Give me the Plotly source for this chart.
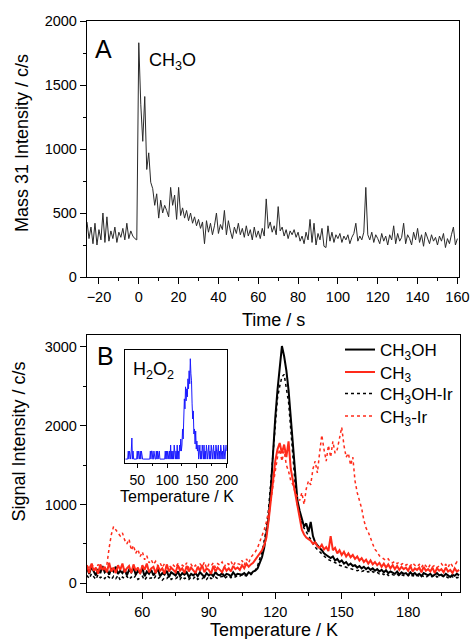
import plotly.graph_objects as go

# ---------------- data ----------------
time_s = list(range(-26, 161))
mass31 = [
    430, 300, 390, 260, 420, 250, 370, 290, 500, 270,
    470, 280, 360, 300, 390, 270, 350, 310, 380, 290,
    420, 300, 360, 320, 300, 290,
    1830, 1350, 1060, 1410, 840, 970, 740, 690, 560, 650,
    460, 600, 500, 560, 520, 470, 700, 560, 640, 450,
    700, 480, 540, 460, 520, 440, 500, 420, 470, 400,
    450, 380, 430, 260, 440, 350, 420, 330, 400, 500,
    340, 410, 370, 520, 330, 440, 360, 300, 390, 340,
    420, 330, 380, 310, 400, 320, 370, 290, 390, 310,
    360, 300, 380, 320, 610, 380, 430, 350, 400, 330,
    550, 360, 390, 320, 370, 300, 360, 330, 370, 310,
    350, 280, 320, 260, 350, 290, 450, 270, 420, 250,
    340, 290, 380, 240, 230, 400, 280, 350, 270, 330,
    300, 340, 270, 320, 290, 330, 260, 310, 340, 420,
    280, 320, 290, 350, 700, 330, 290, 350, 270, 330,
    300, 260, 340, 280, 320, 250, 330, 290, 400, 260,
    340, 280, 310, 420, 260, 330, 300, 250, 350, 290,
    380, 270, 330, 240, 350, 300, 260, 330, 280, 310,
    250, 320, 280, 340, 230, 300, 260, 330, 390, 250,
    300,
]

temp_K = list(range(35, 204))
ch3oh = [
    190, 120, 210, 150, 100, 180, 130, 220, 140, 170,
    110, 190, 150, 210, 120, 160, 130, 180, 100, 170,
    140, 200, 110, 160, 130, 190, 90, 150, 120, 170,
    100, 140, 180, 90, 130, 110, 160, 80, 140, 120,
    100, 150, 90, 130, 110, 140, 80, 120, 100, 130,
    90, 140, 110, 80, 130, 100, 120, 90, 140, 110,
    100, 130, 90, 120, 110, 90, 140, 100, 120, 110,
    110, 130, 100, 140, 120, 150, 160, 190, 260, 330,
    450, 620, 830, 1200, 1700, 2100, 2450, 2750, 3010, 2880,
    2700, 2450, 2100, 1650, 1300, 1050, 920, 800, 720, 760,
    650, 780, 600, 520, 480, 450, 420, 380, 360, 340,
    320, 340, 290, 310, 270, 290, 250, 270, 230, 250,
    220, 230, 200, 220, 190, 210, 180, 200, 170, 190,
    160, 180, 150, 170, 140, 165, 130, 150, 140, 120,
    150, 110, 140, 120, 130, 100, 140, 110, 130, 100,
    120, 90, 130, 110, 100, 120, 90, 110, 130, 100,
    110, 90, 120, 100, 80, 110, 95, 120, 100,
]
ch3 = [
    220, 130, 250, 160, 200, 120, 240, 170, 210, 140,
    260, 150, 200, 130, 230, 170, 250, 140, 190, 220,
    130, 240, 160, 200, 120, 230, 170, 250, 140, 190,
    210, 130, 220, 160, 190, 120, 240, 150, 200, 170,
    140, 230, 160, 190, 130, 220, 150, 200, 170, 130,
    210, 160, 230, 140, 190, 170, 120, 220, 150, 200,
    170, 140, 210, 160, 190, 150, 220, 180, 200, 170,
    230, 190, 250, 210, 240, 260, 300, 340, 380, 420,
    480, 580, 800, 1050, 1350, 1550, 1700, 1780, 1650, 1760,
    1600, 1800, 1450, 1300, 1150, 950, 800, 680, 620, 580,
    560, 540, 500, 520, 470, 450, 490, 430, 460, 410,
    600, 420, 450, 380, 420, 360, 400, 340, 380, 330,
    360, 310, 340, 290, 320, 270, 300, 250, 290, 240,
    270, 230, 260, 210, 250, 200, 240, 190, 230, 180,
    220, 170, 210, 180, 200, 160, 220, 150, 190, 170,
    200, 140, 210, 160, 180, 150, 200, 130, 190, 160,
    180, 140, 200, 150, 170, 130, 190, 150, 170,
]
ch3oh_ir = [
    100, 60, 120, 80, 50, 110, 70, 90, 60, 100,
    70, 50, 90, 60, 100, 40, 80, 60, 90, 50,
    80, 60, 100, 50, 70, 90, 40, 80, 60, 70,
    50, 90, 60, 80, 40, 70, 60, 90, 50, 70,
    60, 80, 50, 90, 60, 70, 50, 80, 60, 90,
    50, 70, 60, 80, 50, 90, 60, 70, 80, 60,
    70, 90, 60, 80, 100, 70, 90, 80, 100, 90,
    110, 90, 100, 120, 110, 140, 170, 220, 300, 400,
    540, 700, 950, 1300, 1750, 2100, 2350, 2500, 2620, 2650,
    2500, 2300, 1950, 1550, 1250, 1000, 880, 760, 700, 650,
    600, 560, 500, 460, 430, 400, 370, 340, 320, 300,
    290, 270, 260, 250, 230, 220, 210, 200, 190, 180,
    180, 170, 160, 170, 150, 160, 140, 150, 130, 150,
    130, 140, 120, 130, 110, 130, 100, 120, 110, 100,
    120, 90, 110, 100, 90, 110, 80, 100, 90, 110,
    80, 100, 90, 70, 100, 80, 90, 110, 80, 90,
    100, 80, 90, 70, 100, 80, 90, 70, 80,
]
ch3_ir = [
    230, 180, 260, 200, 170, 240, 190, 220, 180, 240,
    450, 620, 720, 680, 650, 600, 640, 550, 500, 560,
    420, 480, 380, 430, 340, 400, 300, 350, 260, 300,
    240, 280, 220, 260, 200, 250, 210, 240, 190, 230,
    200, 250, 180, 230, 210, 260, 190, 240, 200, 230,
    180, 250, 210, 270, 190, 240, 220, 260, 200, 250,
    230, 270, 210, 260, 240, 280, 220, 270, 250, 240,
    290, 230, 310, 260, 330, 360, 400, 450, 520, 600,
    680, 780, 900, 1050, 1250, 1450, 1600, 1700, 1550, 1680,
    1500, 1420, 1300, 1250, 1150, 1100, 1050, 1150, 1000, 1200,
    1300, 1250, 1450, 1550, 1400, 1650, 1880, 1700, 1550, 1750,
    1600, 1800, 1650, 1700, 1850, 1980, 1750, 1600, 1650, 1500,
    1600, 1300, 1150, 1050, 950, 800, 700, 650, 560, 500,
    430, 400, 350, 330, 300, 290, 310, 270, 260, 280,
    250, 270, 240, 260, 230, 250, 220, 260, 230, 210,
    240, 200, 250, 220, 190, 240, 210, 230, 200, 220,
    250, 210, 240, 200, 260, 220, 230, 270, 240,
]

inset_T = list(range(30, 201))
h2o2 = [
    0, 0, 0, 0, 0, 8, 0, 8, 0, 0,
    8, 21, 0, 8, 0, 0, 0, 0, 0, 0,
    8, 0, 8, 0, 0, 8, 0, 8, 0, 0,
    0, 0, 0, 0, 0, 0, 0, 0, 0, 0,
    0, 0, 8, 0, 8, 8, 0, 0, 8, 0,
    0, 0, 8, 0, 8, 0, 8, 8, 0, 0,
    0, 0, 0, 0, 0, 0, 0, 8, 0, 8,
    0, 8, 0, 0, 8, 0, 14, 0, 8, 0,
    8, 0, 14, 8, 0, 8, 0, 14, 0, 8,
    0, 14, 8, 20, 8, 14, 30, 20, 45, 60,
    50, 72, 58, 70, 62, 80, 70, 88, 75, 100,
    85, 78, 55, 40, 48, 25, 30, 15, 28, 10,
    18, 8, 14, 0, 8, 14, 0, 8, 0, 14,
    8, 0, 14, 0, 8, 0, 14, 8, 0, 8,
    14, 0, 8, 0, 14, 8, 0, 8, 14, 0,
    8, 0, 14, 8, 0, 8, 14, 0, 8, 0,
    14, 8, 0, 8, 0, 14, 8, 0, 8, 14,
    8,
]

# ---------------- figure ----------------
W, H = 470, 639
FONT = "Liberation Sans, Arial, sans-serif"


def px(x):
    return x / W


def py(y):
    return 1 - y / H


fig = go.Figure()

fig.add_trace(go.Scatter(x=time_s, y=mass31, mode="lines",
                         line=dict(color="#2a2a2a", width=1),
                         xaxis="x", yaxis="y", showlegend=False))

fig.add_trace(go.Scatter(x=temp_K, y=ch3oh_ir, mode="lines", name="CH<sub>3</sub>OH-Ir",
                         line=dict(color="black", width=1.5, dash="dot"),
                         xaxis="x2", yaxis="y2", legend="legend3"))
fig.add_trace(go.Scatter(x=temp_K, y=ch3oh, mode="lines", name="CH<sub>3</sub>OH",
                         line=dict(color="black", width=2),
                         xaxis="x2", yaxis="y2", legend="legend"))
fig.add_trace(go.Scatter(x=temp_K, y=ch3_ir, mode="lines", name="CH<sub>3</sub>-Ir",
                         line=dict(color="#ff2a1a", width=1.5, dash="dot"),
                         xaxis="x2", yaxis="y2", legend="legend4"))
fig.add_trace(go.Scatter(x=temp_K, y=ch3, mode="lines", name="CH<sub>3</sub>",
                         line=dict(color="#ff2a1a", width=2),
                         xaxis="x2", yaxis="y2", legend="legend2"))

fig.add_trace(go.Scatter(x=inset_T, y=h2o2, mode="lines",
                         line=dict(color="#1a1aff", width=1),
                         xaxis="x3", yaxis="y3", showlegend=False))

MINOR = dict(ticks="outside", tickcolor="black", tickwidth=1.3, showgrid=False)
axis_common = dict(showgrid=False, zeroline=False, showline=True, linecolor="black",
                   linewidth=1.3, mirror=True, ticks="outside", tickcolor="black",
                   tickwidth=1.3, ticklen=6, automargin=False, ticklabeloverflow="allow",
                   tickfont=dict(family=FONT, size=14.5, color="black"))


def leg(ycenter):
    return dict(x=px(340), y=py(ycenter), xanchor="left", yanchor="middle",
                font=dict(family=FONT, size=17, color="black"),
                bgcolor="rgba(0,0,0,0)", itemwidth=30)


fig.update_layout(
    width=W, height=H,
    margin=dict(l=0, r=0, t=0, b=0, pad=0, autoexpand=False),
    paper_bgcolor="white", plot_bgcolor="white",
    font=dict(family=FONT, color="black"),
    xaxis=dict(axis_common, domain=[px(87), px(459)], anchor="y",
               range=[-26, 160.8], tick0=0, dtick=20,
               minor=dict(MINOR, dtick=10, ticklen=3)),
    yaxis=dict(axis_common, domain=[py(277), py(21)], anchor="x",
               range=[0, 2000], tick0=0, dtick=500,
               minor=dict(MINOR, dtick=250, ticklen=3)),
    xaxis2=dict(axis_common, domain=[px(87), px(460)], anchor="y2",
                range=[35, 203.4], tick0=0, dtick=30,
                minor=dict(MINOR, dtick=15, ticklen=3)),
    yaxis2=dict(axis_common, domain=[py(592), py(335)], anchor="x2",
                range=[-110, 3150], tick0=0, dtick=1000,
                minor=dict(MINOR, dtick=500, ticklen=3)),
    xaxis3=dict(axis_common, domain=[px(125.3), px(226.7)], anchor="y3",
                range=[30, 200], tick0=0, dtick=50, ticklen=4,
                tickfont=dict(family=FONT, size=14, color="black"),
                minor=dict(MINOR, dtick=25, ticklen=2)),
    yaxis3=dict(showgrid=False, zeroline=False, showline=True, linecolor="black",
                linewidth=1.3, mirror=True, ticks="", showticklabels=False,
                automargin=False,
                domain=[py(462.7), py(350)], anchor="x3", range=[-3.6, 108.7]),
    legend=leg(350),
    legend2=leg(372.5),
    legend3=leg(394),
    legend4=leg(416.5),
    showlegend=True,
)

annos = [
    dict(text="Mass 31 Intensity / c/s", x=px(22), y=py(143), textangle=-90, size=18),
    dict(text="Time / s", x=px(273), y=py(320), size=18),
    dict(text="Signal Intensity / c/s", x=px(18.5), y=py(442), textangle=-90, size=18),
    dict(text="Temperature / K", x=px(274), y=py(630), size=18),
    dict(text="Temperature / K", x=px(177), y=py(496), size=16),
    dict(text="A", x=px(103), y=py(49), size=25),
    dict(text="B", x=px(105.5), y=py(355.5), size=25),
]
for a in annos:
    fig.add_annotation(text=a["text"], x=a["x"], y=a["y"], xref="paper", yref="paper",
                       xanchor="center", yanchor="middle", showarrow=False,
                       textangle=a.get("textangle", 0),
                       font=dict(family=FONT, size=a["size"], color="black"))

fig.add_annotation(text="CH<sub>3</sub>O", x=px(147), y=py(61), xref="paper", yref="paper",
                   xanchor="left", yanchor="middle", showarrow=False,
                   font=dict(family=FONT, size=18, color="black"))
fig.add_annotation(text="H<sub>2</sub>O<sub>2</sub>", x=px(131), y=py(370), xref="paper", yref="paper",
                   xanchor="left", yanchor="middle", showarrow=False,
                   font=dict(family=FONT, size=18, color="black"))

# remove the browser's default body margin so the 470x639 figure fills the window
fig.write_html("out.html", config={"displayModeBar": False},
               post_script="document.body.style.margin='0';document.body.style.overflow='hidden';")
